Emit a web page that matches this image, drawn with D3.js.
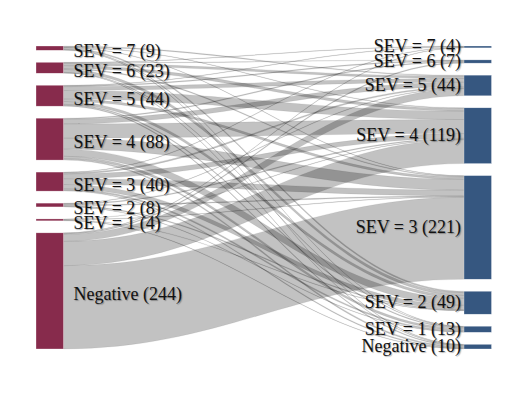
<!DOCTYPE html>
<html>
<head>
<meta charset="utf-8">
<script src="https://cdn.jsdelivr.net/npm/d3@7"></script>
<style>
	body { margin: 0; background: #fff; }
	text.label { font-family: "Liberation Serif", "Times New Roman", "DejaVu Serif", serif; font-size: 18px; fill: #111;
		text-shadow: 1px 1px 1px rgba(0,0,0,0.3); }
</style>
</head>
<body>
<div id="svg-container"></div>
<script>
	// categories, same order on both sides (top to bottom)
	var categories = ['SEV = 7', 'SEV = 6', 'SEV = 5', 'SEV = 4', 'SEV = 3', 'SEV = 2', 'SEV = 1', 'Negative'];
	var leftCounts  = [9, 23, 44, 88, 40, 8, 4, 244];
	var rightCounts = [4, 7, 44, 119, 221, 49, 13, 10];

	// flows: row = left category, column = right category
	var flowSev7 = [0, 0, 2, 1, 1, 3, 1, 1];
	var flowSev6 = [1, 1, 5, 6, 2, 6, 1, 1];
	var flowSev5 = [1, 2, 8, 18, 5, 6, 2, 2];
	var flowSev4 = [0, 2, 10, 30, 23, 15, 5, 3];
	var flowSev3 = [1, 0, 3, 10, 12, 9, 3, 2];
	var flowSev2 = [0, 0, 1, 2, 2, 2, 1, 0];
	var flowSev1 = [0, 0, 0, 1, 1, 1, 0, 1];
	var flowNeg  = [1, 2, 15, 51, 175, 0, 0, 0];
	var flows = [flowSev7, flowSev6, flowSev5, flowSev4, flowSev3, flowSev2, flowSev1, flowNeg];

	var pageWidth = 528;
	var pageHeight = 396;
	var chartTop = 46;
	var chartBottom = 349;
	var nodePadding = 12;
	var nodeWidth = 27.5;
	var leftX = 36;
	var rightX = 464;
	var curvature = 0.4;
	var leftColor = '#872b4c';
	var rightColor = '#365780';

	var svg = d3.select('#svg-container')
		.append('svg')
		.attr('width', pageWidth)
		.attr('height', pageHeight);

	var leftNodes = layoutColumn(leftCounts, leftX);
	var rightNodes = layoutColumn(rightCounts, rightX);

	function layoutColumn(counts, x) {
		var total = d3.sum(counts);
		var avail = chartBottom - chartTop - nodePadding * (counts.length - 1);
		var scale = d3.scaleLinear().domain([0, total]).range([0, avail]);
		var cum = 0;
		return counts.map(function(c, i){
			var y0 = chartTop + scale(cum) + i * nodePadding;
			cum += c;
			return { name: categories[i], count: c, x0: x, x1: x + nodeWidth, y0: y0, y1: y0 + scale(c), scale: scale };
		});
	}

	// stack links on each node: source side ordered by target, target side by source
	var links = [];
	var srcOffset = leftNodes.map(function(n){ return n.y0 });
	var tgtOffset = rightNodes.map(function(n){ return n.y0 });

	flows.forEach(function(row, i){
		row.forEach(function(v, j){
			if (v === 0) { return };
			links.push({ s: i, t: j, value: v });
		})
	})

	links.slice().sort(function(a, b){ return a.s - b.s || a.t - b.t }).forEach(function(l){
		var w = leftNodes[l.s].scale(l.value);
		l.sy0 = srcOffset[l.s];
		l.sy1 = l.sy0 + w;
		srcOffset[l.s] += w;
	})

	links.slice().sort(function(a, b){ return a.t - b.t || a.s - b.s }).forEach(function(l){
		var w = rightNodes[l.t].scale(l.value);
		l.ty0 = tgtOffset[l.t];
		l.ty1 = l.ty0 + w;
		tgtOffset[l.t] += w;
	})

	function ribbon(l) {
		var x0 = leftX + nodeWidth;
		var x1 = rightX;
		var xa = x0 + (x1 - x0) * curvature;
		var xb = x1 - (x1 - x0) * curvature;
		var p = d3.path();
		p.moveTo(x0, l.sy0);
		p.bezierCurveTo(xa, l.sy0, xb, l.ty0, x1, l.ty0);
		p.lineTo(x1, l.ty1);
		p.bezierCurveTo(xb, l.ty1, xa, l.sy1, x0, l.sy1);
		p.closePath();
		return p.toString();
	}

	svg.append('g')
		.attr('class', 'links')
		.selectAll('path')
		.data(links)
		.enter()
		.append('path')
			.attr('d', ribbon)
			.attr('fill', 'rgba(0,0,0,0.24)')
			.attr('stroke', 'rgba(0,0,0,0.15)')
			.attr('stroke-width', 0.4);

	drawNodes(leftNodes, leftColor);
	drawNodes(rightNodes, rightColor);

	function drawNodes(nodes, color) {
		svg.append('g')
			.selectAll('rect')
			.data(nodes)
			.enter()
			.append('rect')
				.attr('x', function(d){ return d.x0 })
				.attr('y', function(d){ return d.y0 })
				.attr('width', nodeWidth)
				.attr('height', function(d){ return Math.max(1, d.y1 - d.y0) })
				.attr('fill', color)
				.attr('stroke', 'rgba(255,255,255,0.6)')
				.attr('stroke-width', 0.5);
	}

	// labels
	svg.append('g')
		.selectAll('text')
		.data(leftNodes)
		.enter()
		.append('text')
			.attr('class', 'label')
			.attr('font-family', '"Liberation Serif", "Times New Roman", serif')
			.attr('x', leftX + nodeWidth + 10)
			.attr('y', function(d){ return (d.y0 + d.y1) / 2 + 3 })
			.attr('dy', '0.35em')
			.text(function(d){ return d.name + ' (' + d.count + ')' });

	svg.append('g')
		.selectAll('text')
		.data(rightNodes)
		.enter()
		.append('text')
			.attr('class', 'label')
			.attr('font-family', '"Liberation Serif", "Times New Roman", serif')
			.attr('x', rightX - 3)
			.attr('y', function(d){ return (d.y0 + d.y1) / 2 - 1 })
			.attr('dy', '0.35em')
			.attr('text-anchor', 'end')
			.text(function(d){ return d.name + ' (' + d.count + ')' });
</script>
</body>
</html>
